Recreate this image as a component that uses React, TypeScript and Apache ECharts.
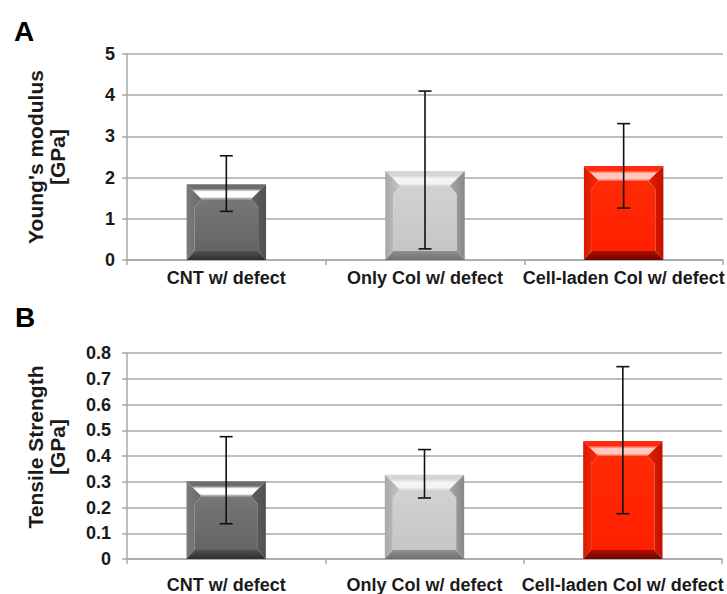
import React, { useEffect, useRef } from "react";
import * as echarts from "echarts";

const categories = ["CNT w/ defect", "Only Col w/ defect", "Cell-laden Col w/ defect"];

const youngMean = [1.84, 2.16, 2.28];
const youngLow = [1.18, 0.27, 1.26];
const youngHigh = [2.53, 4.1, 3.31];
const youngTicks = { min: 0, max: 5, interval: 1 };

const tensileMean = [0.302, 0.327, 0.458];
const tensileLow = [0.137, 0.237, 0.176];
const tensileHigh = [0.475, 0.425, 0.747];
const tensileTicks = { min: 0, max: 0.8, interval: 0.1 };

const FONT = "'Liberation Sans', Arial, Helvetica, sans-serif";

const palettes = [
  {
    face: ["#777777", "#646464"],
    topEdge: "#6c6c6c",
    topLight: "#ffffff",
    topEnd: "#8c8c8c",
    left: ["#7a7a7a", "#6a6a6a"],
    right: ["#505050", "#606060"],
    bottom: ["#505050", "#2e2e2e"],
  },
  {
    face: ["#d2d2d2", "#c6c6c6"],
    topEdge: "#d6d6d6",
    topLight: "#f4f4f4",
    topEnd: "#d8d8d8",
    left: ["#a8a8a8", "#c4c4c4"],
    right: ["#888888", "#a8a8a8"],
    bottom: ["#909090", "#707070"],
  },
  {
    face: ["#ff2a05", "#ff2000"],
    topEdge: "#ff2a10",
    topLight: "#ffc8bc",
    topEnd: "#ff4a30",
    left: ["#d81a00", "#ff2a05"],
    right: ["#c01200", "#e81c00"],
    bottom: ["#b00e00", "#6a0600"],
  },
];

function vgrad(stops: [number, string][]) {
  return {
    type: "linear",
    x: 0,
    y: 0,
    x2: 0,
    y2: 1,
    colorStops: stops.map(([offset, color]) => ({ offset, color })),
  };
}
function hgrad(a: string, b: string) {
  return {
    type: "linear",
    x: 0,
    y: 0,
    x2: 1,
    y2: 0,
    colorStops: [
      { offset: 0, color: a },
      { offset: 1, color: b },
    ],
  };
}

function renderBar(params: any, api: any) {
  const i = api.value(0);
  const v = api.value(1);
  const lo = api.value(2);
  const hi = api.value(3);
  const top = api.coord([i, v]);
  const base = api.coord([i, 0]);
  const bw = api.size([1, 0])[0] * 0.4;
  const x0 = top[0] - bw / 2;
  const x1 = x0 + bw;
  const y0 = top[1];
  const y1 = base[1];
  const h = y1 - y0;
  const t = Math.min(15, h * 0.3);
  const b = Math.min(9, h * 0.2);
  const st = Math.min(15, bw * 0.2);
  const s = Math.min(8, bw * 0.1);
  const d = Math.min(8, h * 0.1);
  const p = palettes[i % palettes.length];
  const pLo = api.coord([i, lo]);
  const pHi = api.coord([i, hi]);
  const cx = top[0];
  const cap = 6.5;
  const errStyle = { stroke: "#111", lineWidth: 1.6 };
  return {
    type: "group",
    children: [
      {
        type: "polygon",
        shape: {
          points: [
            [x0 + st, y0 + t],
            [x1 - st, y0 + t],
            [x1 - s, y0 + t + d],
            [x1 - s, y1 - b],
            [x0 + s, y1 - b],
            [x0 + s, y0 + t + d],
          ],
        },
        style: { fill: vgrad([[0, p.face[0]], [1, p.face[1]]]) },
      },
      {
        type: "polygon",
        shape: { points: [[x0, y0], [x1, y0], [x1 - st, y0 + t], [x0 + st, y0 + t]] },
        style: {
          fill: vgrad([
            [0, p.topEdge],
            [0.3, p.topEdge],
            [0.5, p.topLight],
            [0.85, p.topLight],
            [1, p.topEnd],
          ]),
        },
      },
      {
        type: "polygon",
        shape: { points: [[x0, y0], [x0 + st, y0 + t], [x0 + s, y0 + t + d], [x0 + s, y1 - b], [x0, y1]] },
        style: { fill: hgrad(p.left[0], p.left[1]) },
      },
      {
        type: "polygon",
        shape: { points: [[x1, y0], [x1, y1], [x1 - s, y1 - b], [x1 - s, y0 + t + d], [x1 - st, y0 + t]] },
        style: { fill: hgrad(p.right[1], p.right[0]) },
      },
      {
        type: "polygon",
        shape: { points: [[x0, y1], [x0 + s, y1 - b], [x1 - s, y1 - b], [x1, y1]] },
        style: { fill: vgrad([[0, p.bottom[0]], [1, p.bottom[1]]]) },
      },
      {
        type: "line",
        shape: { x1: cx, y1: pLo[1], x2: cx, y2: pHi[1] },
        style: errStyle,
      },
      {
        type: "line",
        shape: { x1: cx - cap, y1: pLo[1], x2: cx + cap, y2: pLo[1] },
        style: errStyle,
      },
      {
        type: "line",
        shape: { x1: cx - cap, y1: pHi[1], x2: cx + cap, y2: pHi[1] },
        style: errStyle,
      },
    ],
  };
}

function buildData(mean: number[], low: number[], high: number[]) {
  return mean.map((m, i) => [i, m, low[i], high[i]]);
}

const labelStyle = { fontFamily: FONT, fontWeight: "bold" as const, fontSize: 18, color: "#1a1a1a" };
const gridLine = { color: "#a8a8a8", width: 1.5 };

function xAxisFor(gridIndex: number, margin: number) {
  return {
    type: "category",
    gridIndex,
    data: categories,
    boundaryGap: true,
    axisLine: { lineStyle: gridLine },
    axisTick: { show: true, length: 5, lineStyle: gridLine },
    axisLabel: { ...labelStyle, margin, interval: 0 },
  };
}
function yAxisFor(gridIndex: number, ticks: any, margin: number) {
  return {
    type: "value",
    gridIndex,
    min: ticks.min,
    max: ticks.max,
    interval: ticks.interval,
    axisLine: { show: true, lineStyle: gridLine },
    axisTick: { show: true, length: 5, lineStyle: gridLine },
    splitLine: { show: true, lineStyle: gridLine },
    axisLabel: {
      ...labelStyle,
      margin,
      formatter: (v: number) => (Math.abs(v) < 1e-9 ? "0" : String(Math.round(v * 10) / 10)),
    },
  };
}

export default function App() {
  const ref = useRef<HTMLDivElement>(null);
  useEffect(() => {
    if (!ref.current) return;
    const chart = echarts.init(ref.current, undefined, { renderer: "svg" });
    chart.setOption({
      animation: false,
      backgroundColor: "#ffffff",
      title: [
        { text: "A", left: 9, top: 12, textStyle: { fontFamily: FONT, fontWeight: "bold", fontSize: 28, color: "#000" } },
        { text: "B", left: 10, top: 298, textStyle: { fontFamily: FONT, fontWeight: "bold", fontSize: 28, color: "#000" } },
      ],
      grid: [
        { left: 127, right: 0, top: 54, height: 206 },
        { left: 127, right: 5, top: 353, height: 210 },
      ],
      xAxis: [xAxisFor(0, 9), xAxisFor(1, 17)],
      yAxis: [yAxisFor(0, youngTicks, 12), yAxisFor(1, tensileTicks, 16)],
      graphic: [
        {
          type: "text",
          x: 46,
          y: 157,
          rotation: Math.PI / 2,
          style: {
            text: "Young's modulus\n[GPa]",
            font: `bold 21px ${FONT}`,
            fill: "#1a1a1a",
            align: "center",
            verticalAlign: "middle",
            lineHeight: 22,
          },
        },
        {
          type: "text",
          x: 46,
          y: 447,
          rotation: Math.PI / 2,
          style: {
            text: "Tensile Strength\n[GPa]",
            font: `bold 21px ${FONT}`,
            fill: "#1a1a1a",
            align: "center",
            verticalAlign: "middle",
            lineHeight: 22,
          },
        },
      ],
      series: [
        {
          type: "custom",
          xAxisIndex: 0,
          yAxisIndex: 0,
          renderItem: renderBar,
          encode: { x: 0, y: 1 },
          data: buildData(youngMean, youngLow, youngHigh),
        },
        {
          type: "custom",
          xAxisIndex: 1,
          yAxisIndex: 1,
          renderItem: renderBar,
          encode: { x: 0, y: 1 },
          data: buildData(tensileMean, tensileLow, tensileHigh),
        },
      ],
    });
    return () => chart.dispose();
  }, []);
  return (
    <div
      ref={ref}
      style={{ position: "fixed", left: 0, top: 0, width: 727, height: 594 }}
    />
  );
}
